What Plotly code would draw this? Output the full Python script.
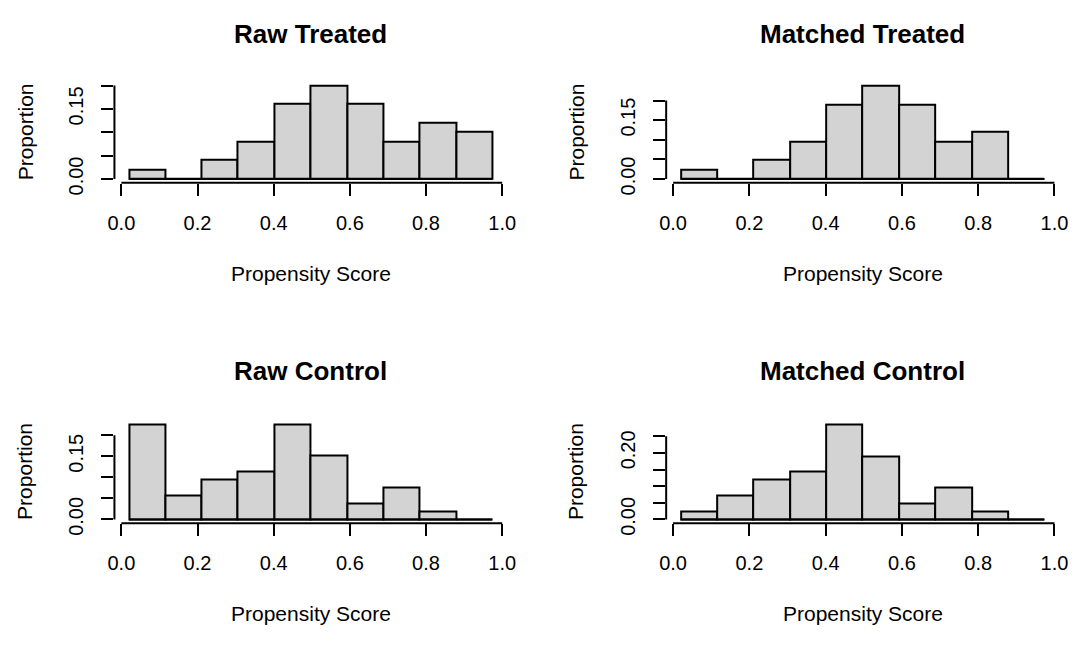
import plotly.graph_objects as go

# histogram bin edges (propensity score)
edges = [0.020, 0.115, 0.211, 0.306, 0.402, 0.497, 0.593, 0.688, 0.783, 0.879, 0.974]

# proportions per bin
raw_treated = [0.020, 0.000, 0.040, 0.080, 0.160, 0.200, 0.160, 0.080, 0.120, 0.100]
matched_treated = [0.024, 0.000, 0.048, 0.095, 0.190, 0.238, 0.190, 0.095, 0.119, 0.000]
raw_control = [0.226, 0.057, 0.094, 0.113, 0.226, 0.151, 0.038, 0.075, 0.019, 0.000]
matched_control = [0.024, 0.071, 0.119, 0.143, 0.286, 0.190, 0.048, 0.095, 0.024, 0.000]

titles = ["Raw Treated", "Matched Treated", "Raw Control", "Matched Control"]
x_ticks = [0.0, 0.2, 0.4, 0.6, 0.8, 1.0]
x_labels = ["0.0", "0.2", "0.4", "0.6", "0.8", "1.0"]
y_ticks_a = [0.0, 0.05, 0.10, 0.15, 0.20]
y_labels_a = ["0.00", "", "", "0.15", ""]
y_ticks_b = [0.0, 0.05, 0.10, 0.15, 0.20, 0.25]
y_labels_b = ["0.00", "", "", "", "0.20", ""]

FONT = "Liberation Sans, Arial, sans-serif"
panels = [
    (raw_treated, y_ticks_a, y_labels_a),
    (matched_treated, y_ticks_a, y_labels_a),
    (raw_control, y_ticks_a, y_labels_a),
    (matched_control, y_ticks_b, y_labels_b),
]
x_domains = [[0.1006, 0.468], [0.6172, 0.9851]]
y_domains = [[0.7122, 0.8711], [0.1761, 0.3378]]
title_y = [0.9460, 0.4160]
xlab_y = [0.569, 0.034]
ylab_x = [0.0169, 0.533]

centers = [(a + b) / 2 for a, b in zip(edges[:-1], edges[1:])]
widths = [b - a for a, b in zip(edges[:-1], edges[1:])]
span = edges[-1] - edges[0]
x_range = [edges[0] - 0.04 * span, edges[-1] + 0.04 * span]

fig = go.Figure()
shapes = []
annotations = []
for i, (vals, yt, yl) in enumerate(panels):
    row, col = divmod(i, 2)
    sfx = "" if i == 0 else str(i + 1)
    xa, ya = "x" + sfx, "y" + sfx
    fig.add_trace(go.Bar(x=centers, y=vals, width=widths, xaxis=xa, yaxis=ya,
                         marker=dict(color="#d3d3d3", line=dict(color="black", width=2)),
                         showlegend=False, hoverinfo="skip"))
    # baseline (zero-height bins show as a line in R)
    fig.add_trace(go.Scatter(x=[edges[0], edges[-1]], y=[0, 0], xaxis=xa, yaxis=ya,
                             mode="lines", line=dict(color="black", width=2),
                             showlegend=False, hoverinfo="skip"))
    top = max(vals)
    common = dict(showgrid=False, zeroline=False, showline=False, ticks="outside",
                  ticklen=12, tickwidth=2, tickcolor="black", ticklabelstandoff=10,
                  tickfont=dict(family=FONT, size=20, color="black"))
    fig.layout["xaxis" + sfx] = dict(domain=x_domains[col], range=x_range, anchor=ya,
                                     tickvals=x_ticks, ticktext=x_labels, **common)
    fig.layout["yaxis" + sfx] = dict(domain=y_domains[row], range=[-0.04 * top, 1.04 * top],
                                     anchor=xa, tickvals=yt, ticktext=yl, tickangle=-90, **common)
    # R style axis lines spanning only the ticks
    shapes.append(dict(type="line", xref=xa, yref=ya + " domain", x0=x_ticks[0], x1=x_ticks[-1],
                       y0=0, y1=0, line=dict(color="black", width=2)))
    shapes.append(dict(type="line", xref=xa + " domain", yref=ya, x0=0, x1=0,
                       y0=yt[0], y1=yt[-1], line=dict(color="black", width=2)))
    xc = sum(x_domains[col]) / 2
    yc = sum(y_domains[row]) / 2
    annotations.append(dict(text="<b>" + titles[i] + "</b>", x=xc, y=title_y[row], xref="paper",
                            yref="paper", showarrow=False, xanchor="center", yanchor="middle",
                            font=dict(family=FONT, size=26, color="black")))
    annotations.append(dict(text="Propensity Score", x=xc, y=xlab_y[row], xref="paper",
                            yref="paper", showarrow=False, xanchor="center", yanchor="middle",
                            font=dict(family=FONT, size=21, color="black")))
    annotations.append(dict(text="Proportion", x=ylab_x[col], y=yc, xref="paper", yref="paper",
                            showarrow=False, textangle=-90, xanchor="center", yanchor="middle",
                            font=dict(family=FONT, size=21, color="black")))

fig.update_layout(width=1084, height=648, margin=dict(l=0, r=0, t=0, b=0),
                  paper_bgcolor="white", plot_bgcolor="white",
                  shapes=shapes, annotations=annotations, bargap=0)
fig.write_html("out.html", config={"displayModeBar": False},
               post_script="document.body.style.margin = '0';")
